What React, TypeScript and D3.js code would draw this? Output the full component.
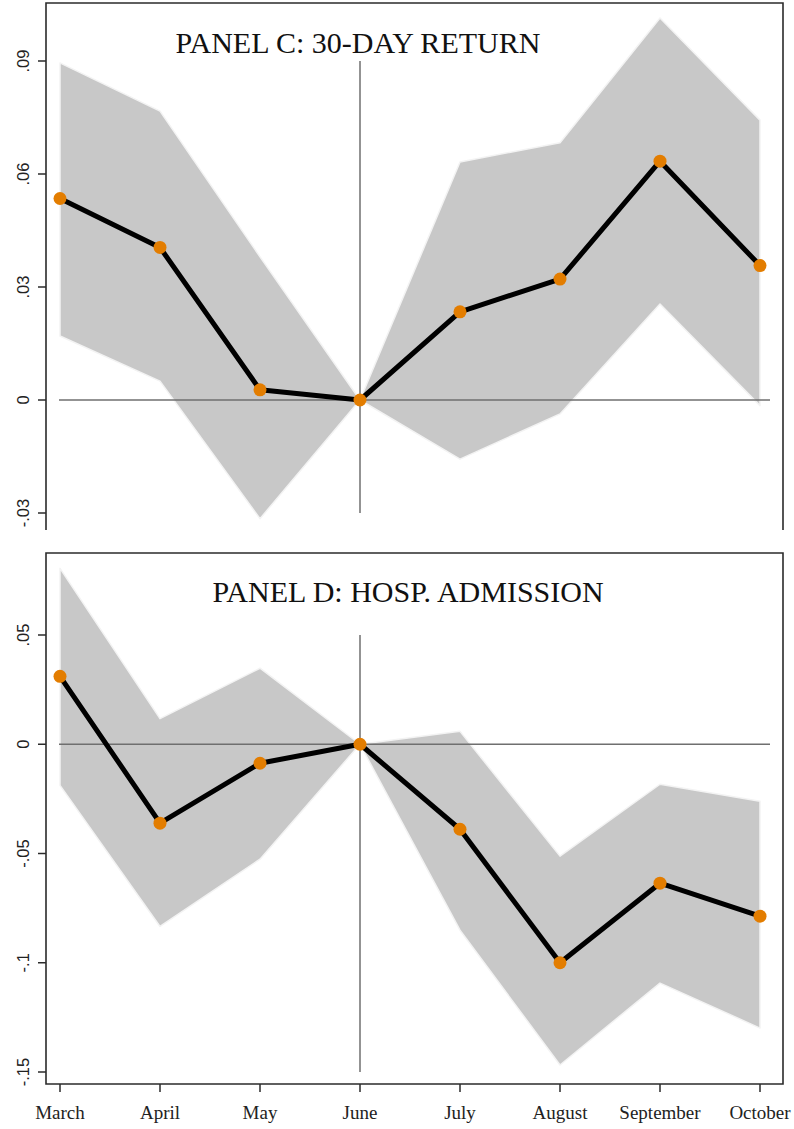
import React from "react";
import * as d3 from "d3";

// Months of the event window; June is the reference month
const months = ["March", "April", "May", "June", "July", "August", "September", "October"];

// Panel C: 30-day return — point estimates with 95% CI
const returnEst = [0.0535, 0.0405, 0.0027, 0, 0.0234, 0.0321, 0.0634, 0.0357];
const returnHi = [0.0895, 0.0767, 0.038, 0, 0.0632, 0.0683, 0.1014, 0.0743];
const returnLo = [0.017, 0.005, -0.0315, 0, -0.0157, -0.0037, 0.0255, -0.0015];
const returnTicks = [-0.03, 0, 0.03, 0.06, 0.09];

// Panel D: hospital admission — point estimates with 95% CI
const admitEst = [0.0311, -0.0361, -0.0087, 0, -0.0389, -0.1, -0.0636, -0.0787];
const admitHi = [0.0805, 0.0117, 0.0348, 0, 0.0059, -0.0512, -0.0183, -0.0261];
const admitLo = [-0.0188, -0.0834, -0.0526, 0, -0.0851, -0.1468, -0.1093, -0.1299];
const admitTicks = [-0.15, -0.1, -0.05, 0, 0.05];

const SERIF = "'Liberation Serif', 'DejaVu Serif', serif";
const SANS = "'Liberation Sans', Arial, sans-serif";
const ORANGE = "#e37d00";
const GRAY_FILL = "#c8c8c8";
const REF = "#6f6f6f";
const FRAME = "#2b2b2b";

const X_LEFT = 46;
const X_RIGHT = 783;

const x = d3.scalePoint<string>().domain(months).range([60, 760]);

// Stata-style labels: no leading zero, plain hyphen for negatives
const fmt = (v: number) => {
  if (v === 0) return "0";
  const body = String(+Math.abs(v).toFixed(2)).replace(/^0/, "");
  return (v < 0 ? "-" : "") + body;
};

type PanelProps = {
  title: string;
  titleX: number;
  titleY: number;
  est: number[];
  hi: number[];
  lo: number[];
  ticks: number[];
  yRange: [number, number];
  frameTop: number;
  frameBottom: number;
  closed: boolean;
};

function Panel(p: PanelProps) {
  const y = d3
    .scaleLinear()
    .domain([p.ticks[0], p.ticks[p.ticks.length - 1]])
    .range(p.yRange);

  const rows = months.map((m, i) => ({ m, est: p.est[i], hi: p.hi[i], lo: p.lo[i] }));

  const band = d3
    .area<typeof rows[number]>()
    .x((d) => x(d.m)!)
    .y0((d) => y(d.lo))
    .y1((d) => y(d.hi));

  const line = d3
    .line<typeof rows[number]>()
    .x((d) => x(d.m)!)
    .y((d) => y(d.est));

  const framePath = p.closed
    ? `M${X_LEFT},${p.frameTop}H${X_RIGHT}V${p.frameBottom}H${X_LEFT}Z`
    : `M${X_LEFT},${p.frameBottom}V${p.frameTop}H${X_RIGHT}V${p.frameBottom}`;

  const junePos = x("June")!;
  const yTop = y(p.ticks[p.ticks.length - 1]);
  const yBot = y(p.ticks[0]);

  return (
    <g>
      <path d={band(rows)!} fill={GRAY_FILL} stroke="#f3f3f3" strokeWidth={1.5} strokeLinejoin="round" />
      {/* reference lines: zero effect and the June base month */}
      <line x1={59} x2={770} y1={y(0)} y2={y(0)} stroke={REF} strokeWidth={1.5} />
      <line x1={junePos} x2={junePos} y1={yTop} y2={yBot} stroke={REF} strokeWidth={1.5} />
      <path d={line(rows)!} fill="none" stroke="#000" strokeWidth={5} strokeLinejoin="round" />
      {rows.map((d) => (
        <circle key={d.m} cx={x(d.m)!} cy={y(d.est)} r={6.5} fill={ORANGE} />
      ))}
      <path d={framePath} fill="none" stroke={FRAME} strokeWidth={1.6} />
      {p.ticks.map((t) => (
        <g key={t}>
          <line x1={X_LEFT - 8} x2={X_LEFT} y1={y(t)} y2={y(t)} stroke={FRAME} strokeWidth={1.5} />
          <text
            transform={`translate(29,${y(t)}) rotate(-90)`}
            textAnchor="middle"
            fontFamily={SANS}
            fontSize={16.5}
            fill="#222"
          >
            {fmt(t)}
          </text>
        </g>
      ))}
      <text x={p.titleX} y={p.titleY} textAnchor="middle" fontFamily={SERIF} fontSize={30} fill="#111">
        {p.title}
      </text>
    </g>
  );
}

export default function App() {
  const bottomFrame = 1084;
  return (
    <div style={{ position: "absolute", left: 0, top: 0 }}>
      <svg width={794} height={1129} style={{ display: "block", background: "#fff" }}>
        <Panel
          title="PANEL C: 30-DAY RETURN"
          titleX={358}
          titleY={53}
          est={returnEst}
          hi={returnHi}
          lo={returnLo}
          ticks={returnTicks}
          yRange={[513, 61]}
          frameTop={3}
          frameBottom={530}
          closed={false}
        />
        <Panel
          title="PANEL D: HOSP. ADMISSION"
          titleX={408}
          titleY={602}
          est={admitEst}
          hi={admitHi}
          lo={admitLo}
          ticks={admitTicks}
          yRange={[1072, 635]}
          frameTop={553}
          frameBottom={bottomFrame}
          closed={true}
        />
        {months.map((m) => (
          <g key={m}>
            <line x1={x(m)!} x2={x(m)!} y1={bottomFrame} y2={bottomFrame + 8} stroke={FRAME} strokeWidth={1.5} />
            <text x={x(m)!} y={1119} textAnchor="middle" fontFamily={SERIF} fontSize={19} fill="#222">
              {m}
            </text>
          </g>
        ))}
      </svg>
    </div>
  );
}
